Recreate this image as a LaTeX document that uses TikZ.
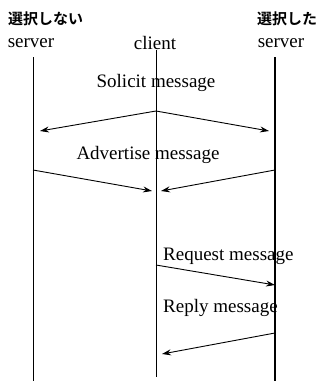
\documentclass[tikz,border=0pt]{standalone}
\usepackage{fontspec}
\setmainfont{Liberation Serif}
\newfontfamily\jpfont{Noto Sans CJK JP}[BoldFont={* Bold}]
\usetikzlibrary{arrows.meta}
\tikzset{
  lbl/.style={inner sep=0pt, font=\fontsize{19}{22}\selectfont},
  jlbl/.style={inner sep=0pt, anchor=west, font=\jpfont\bfseries\fontsize{15}{18}\selectfont},
  life/.style={line width=0.9pt},
  msg/.style={line width=0.9pt, -{Stealth[length=9pt,width=6pt]}}
}
\begin{document}
\begin{tikzpicture}[x=1pt,y=-1pt]
\useasboundingbox (0,0) rectangle (323,381);
% headers
\node[jlbl] (jl) at (8,19) {選択しない};
\node[jlbl] (jr) at (257,19) {選択した};
\node[lbl] (sl) at (31,43) {server};
\node[lbl] (cl) at (155,43) {client};
\node[lbl] (sr) at (281,43) {server};
% lifelines
\coordinate (lt) at (33,57);  \coordinate (lb) at (33,381);
\coordinate (ct) at (156,50); \coordinate (cb) at (156,377);
\coordinate (rt) at (275,57); \coordinate (rb) at (275,381);
\draw[life] (lt) -- (lb);
\draw[life] (ct) -- (cb);
\draw[life, line width=1.6pt] (rt) -- (rb);
% messages
\node[lbl] (sol) at (156,83) {Solicit message};
\coordinate (s0) at (156,111);
\coordinate (s1) at (40,131);
\coordinate (s2) at (269,131);
\draw[msg] (s0) -- (s1);
\draw[msg] (s0) -- (s2);
\node[lbl] (adv) at (148,155) {Advertise message};
\coordinate (a1) at (33,170); \coordinate (a1e) at (152,191);
\coordinate (a2) at (275,170); \coordinate (a2e) at (161,191);
\draw[msg] (a1) -- (a1e);
\draw[msg] (a2) -- (a2e);
\node[lbl, anchor=west] (req) at (163,256) {Request message};
\coordinate (q0) at (156,265); \coordinate (q1) at (275,285);
\draw[msg] (q0) -- (q1);
\node[lbl, anchor=west] (rep) at (163,308) {Reply message};
\coordinate (p0) at (275,333); \coordinate (p1) at (162,354);
\draw[msg] (p0) -- (p1);
\end{tikzpicture}
\end{document}
